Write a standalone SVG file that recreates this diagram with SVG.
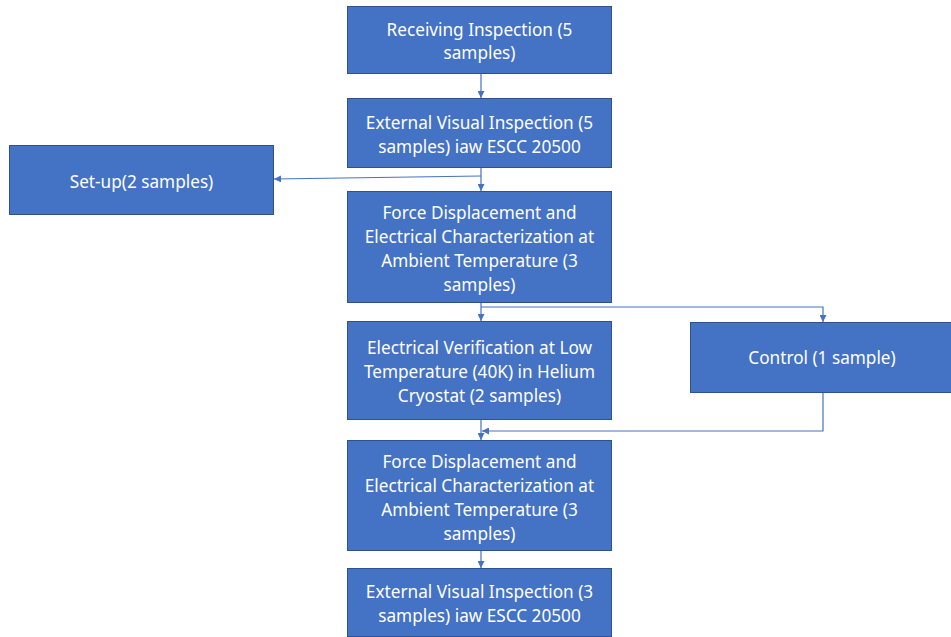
<svg xmlns="http://www.w3.org/2000/svg" width="951" height="637" viewBox="0 0 951 637">
<style>
.box{fill:#4472C4;stroke:#2F528F;stroke-width:1}
.t{fill:#fff;font-family:"Noto Sans","Open Sans",sans-serif;font-size:17.2px;text-anchor:middle;dominant-baseline:central}
.c{fill:none;stroke:#4472C4;stroke-width:1.2}
</style>
<defs>
<marker id="ah" viewBox="0 0 10 10" refX="10" refY="5" markerWidth="7" markerHeight="7" markerUnits="userSpaceOnUse" orient="auto">
<path d="M0,0 L10,5 L0,10 z" fill="#4472C4"/>
</marker>
</defs>
<rect width="951" height="637" fill="#fff"/>
<g id="connectors">
<path class="c" d="M481,73 V98" marker-end="url(#ah)"/>
<path class="c" d="M481,167 V191" marker-end="url(#ah)"/>
<path class="c" d="M481,176 L274,179" marker-end="url(#ah)"/>
<path class="c" d="M481,302 V321" marker-end="url(#ah)"/>
<path class="c" d="M481,307 H823 V322" marker-end="url(#ah)"/>
<path class="c" d="M481,419 V440" marker-end="url(#ah)"/>
<path class="c" d="M823,392 V431 H482" marker-end="url(#ah)"/>
<path class="c" d="M481,551 V568" marker-end="url(#ah)"/>
</g>
<g id="n1"><rect class="box" x="347.5" y="6.5" width="264" height="67"/>
<text class="t" x="479.5" y="29">Receiving Inspection (5</text><text class="t" x="479.5" y="52">samples)</text></g>
<g id="n2"><rect class="box" x="347.5" y="98.5" width="264" height="69"/>
<text class="t" x="479.5" y="122">External Visual Inspection (5</text><text class="t" x="479.5" y="146">samples) iaw ESCC 20500</text></g>
<g id="n3"><rect class="box" x="9.5" y="145.5" width="264" height="69"/>
<text class="t" x="141.5" y="181">Set-up(2 samples)</text></g>
<g id="n4"><rect class="box" x="347.5" y="191.5" width="264" height="111"/>
<text class="t" x="479.5" y="212">Force Displacement and</text><text class="t" x="479.5" y="236">Electrical Characterization at</text><text class="t" x="479.5" y="260">Ambient Temperature (3</text><text class="t" x="479.5" y="284">samples)</text></g>
<g id="n5"><rect class="box" x="347.5" y="321.5" width="264" height="98"/>
<text class="t" x="479.5" y="347">Electrical Verification at Low</text><text class="t" x="479.5" y="371">Temperature (40K) in Helium</text><text class="t" x="479.5" y="395">Cryostat (2 samples)</text></g>
<g id="n6"><rect class="box" x="690.5" y="322.5" width="264" height="70"/>
<text class="t" x="822" y="357">Control (1 sample)</text></g>
<g id="n7"><rect class="box" x="347.5" y="440.5" width="264" height="110"/>
<text class="t" x="479.5" y="461">Force Displacement and</text><text class="t" x="479.5" y="485">Electrical Characterization at</text><text class="t" x="479.5" y="509">Ambient Temperature (3</text><text class="t" x="479.5" y="533">samples)</text></g>
<g id="n8"><rect class="box" x="347.5" y="568.5" width="264" height="68"/>
<text class="t" x="479.5" y="591">External Visual Inspection (3</text><text class="t" x="479.5" y="615">samples) iaw ESCC 20500</text></g>
</svg>
